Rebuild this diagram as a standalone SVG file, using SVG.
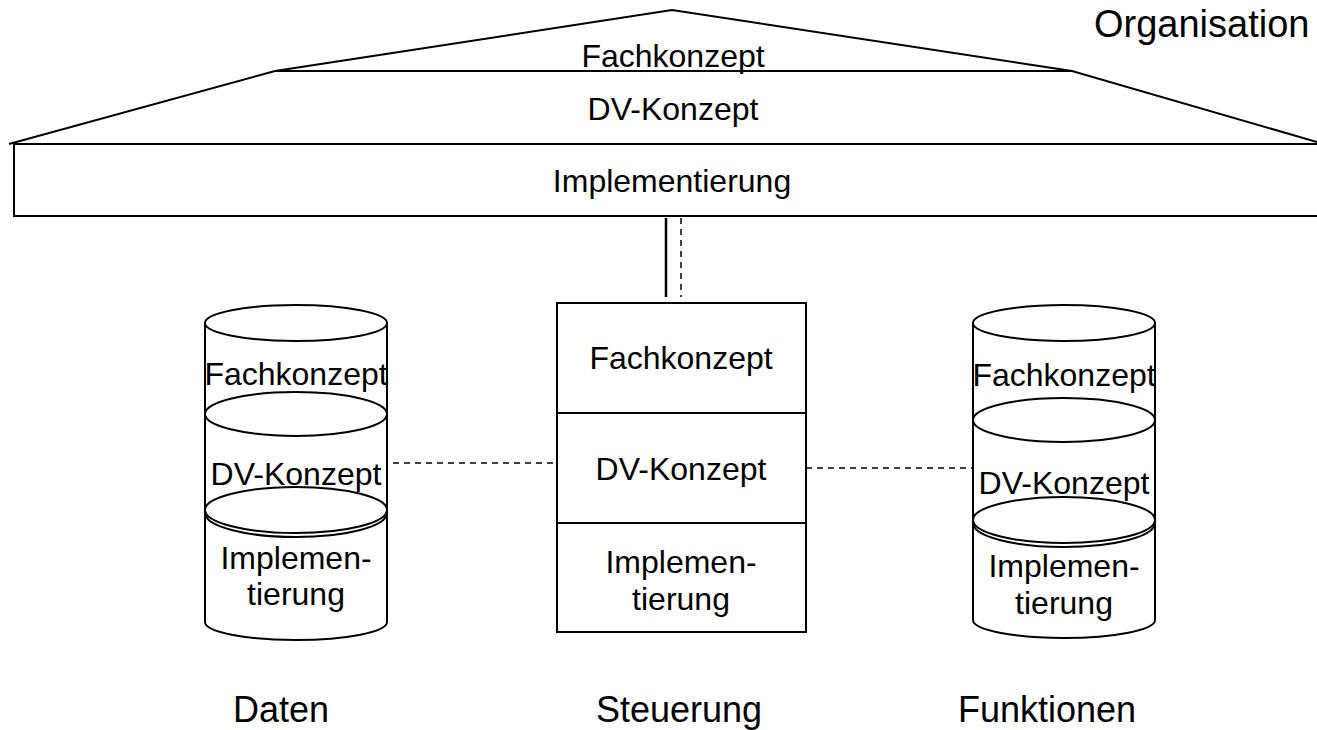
<svg xmlns="http://www.w3.org/2000/svg" width="1317" height="730" viewBox="0 0 1317 730">
<style>
text{font-family:"Liberation Sans",Arial,sans-serif;fill:#000;text-anchor:middle}
.t32{font-size:32px}
.t36{font-size:36px}
.ln{fill:none;stroke:#000;stroke-width:2}
.sh{fill:#fff;stroke:#000;stroke-width:2}
.dash{fill:none;stroke:#000;stroke-width:1.5;stroke-dasharray:6 5}
</style>
<rect width="1317" height="730" fill="#fff"/>
<g id="organisation">
<polyline class="ln" points="9,144 275,71 672,10 1072,71 1317,142"/>
<line class="ln" x1="275" y1="71" x2="1072" y2="71"/>
<rect class="ln" x="14" y="144" width="1310" height="72" stroke-width="2.5"/>
<text class="t32" x="673" y="67">Fachkonzept</text>
<text class="t32" x="673" y="120">DV-Konzept</text>
<text class="t32" x="672" y="192">Implementierung</text>
<text x="1094" y="37" style="font-size:38px;text-anchor:start">Organisation</text>
</g>
<g id="connectors">
<line x1="666" y1="218" x2="666" y2="297" stroke="#000" stroke-width="2.5"/>
<line class="dash" x1="681" y1="218" x2="681" y2="297"/>
<line class="dash" x1="393" y1="463" x2="557" y2="463"/>
<line class="dash" x1="806" y1="468" x2="972" y2="468"/>
</g>
<g id="daten">
<path class="sh" d="M205,323 L205,622 A91,18 0 0 0 387,622 L387,323"/>
<ellipse class="sh" cx="296" cy="323" rx="91" ry="18"/>
<ellipse class="sh" cx="296" cy="414" rx="91" ry="22"/>
<ellipse class="sh" cx="296" cy="513" rx="91" ry="24"/>
<ellipse class="sh" cx="296" cy="510" rx="91" ry="23"/>
<text class="t32" x="296" y="385">Fachkonzept</text>
<text class="t32" x="296" y="485">DV-Konzept</text>
<text class="t32" x="296" y="569">Implemen-</text>
<text class="t32" x="296" y="605">tierung</text>
<text class="t36" x="281" y="722">Daten</text>
</g>
<g id="steuerung">
<rect class="sh" x="557" y="303" width="249" height="329"/>
<line class="ln" x1="557" y1="413" x2="806" y2="413"/>
<line class="ln" x1="557" y1="523" x2="806" y2="523"/>
<text class="t32" x="681" y="369">Fachkonzept</text>
<text class="t32" x="681" y="480">DV-Konzept</text>
<text class="t32" x="681" y="573">Implemen-</text>
<text class="t32" x="681" y="610">tierung</text>
<text class="t36" x="679" y="722">Steuerung</text>
</g>
<g id="funktionen">
<path class="sh" d="M973,323 L973,620 A91,18 0 0 0 1155,620 L1155,323"/>
<ellipse class="sh" cx="1064" cy="323" rx="91" ry="18"/>
<ellipse class="sh" cx="1064" cy="420" rx="91" ry="22"/>
<ellipse class="sh" cx="1064" cy="523" rx="91" ry="24"/>
<ellipse class="sh" cx="1064" cy="520" rx="91" ry="23"/>
<text class="t32" x="1064" y="386">Fachkonzept</text>
<text class="t32" x="1064" y="494">DV-Konzept</text>
<text class="t32" x="1064" y="577">Implemen-</text>
<text class="t32" x="1064" y="614">tierung</text>
<text class="t36" x="1047" y="722">Funktionen</text>
</g>
</svg>
